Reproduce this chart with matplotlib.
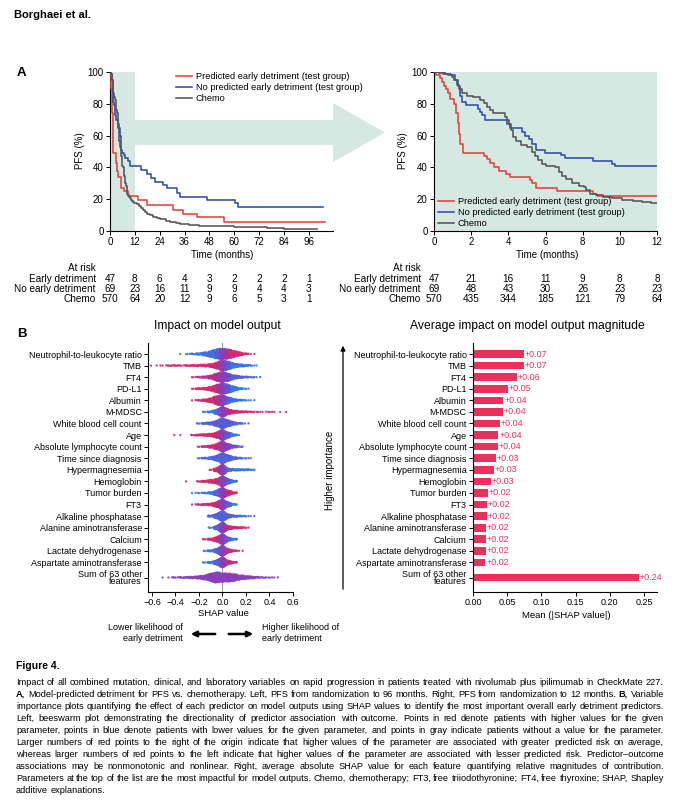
import matplotlib
matplotlib.use('Agg')
import matplotlib.pyplot as plt
import numpy as np
from matplotlib import font_manager
from matplotlib.colors import LinearSegmentedColormap
from matplotlib.patches import Polygon, FancyArrowPatch
from matplotlib.transforms import blended_transform_factory

names = {f.name for f in font_manager.fontManager.ttflist}
SANS = 'Liberation Sans' if 'Liberation Sans' in names else 'DejaVu Sans'
NARROW = 'Liberation Sans Narrow' if 'Liberation Sans Narrow' in names else SANS
plt.rcParams['font.family'] = SANS

# ---------------- data: panel A (PFS %, step curves) ----------------
red_t = [0, 0.13, 0.3, 0.45, 0.55, 0.65, 0.75, 0.85, 1.1, 1.2, 1.28, 1.35, 1.42, 1.55, 2.7,
         2.85, 3.0, 3.25, 3.5, 3.85, 4.1, 5.15, 5.3, 5.5, 6.6, 8.55, 8.75, 13.7, 17.7, 30.6,
         35.4, 42, 55, 104]
red_s = [100, 98, 96, 94, 91.5, 89, 87, 83, 80, 74, 68, 61, 55, 49, 47,
         45, 43, 40.5, 38, 36, 34, 32, 30, 27, 25, 23, 22, 19.5, 16.5, 13.5,
         11, 8.5, 5.5, 5.5]
blue_t = [0, 0.6, 0.9, 1.15, 1.3, 1.4, 1.5, 1.7, 2.35, 2.5, 2.6, 2.72, 3.95, 4.1, 4.75,
          4.9, 5.1, 5.3, 5.5, 5.95, 6.85, 7.05, 8.55, 9.6, 9.75, 15.2, 17.7, 20, 21.6, 25.7,
          27.4, 32.2, 33.8, 46.7, 60.4, 62, 103]
blue_s = [100, 99, 98, 95, 91, 85, 81, 79, 77, 75, 73, 69.5, 67, 65, 62.5,
          60, 58, 55, 51, 49, 48, 46, 44, 42, 41, 38.5, 36, 33.5, 31, 29,
          27, 24, 21.5, 19.5, 17.5, 15, 15]
chemo_t = [0, 0.25, 0.5, 0.75, 0.95, 1.1, 1.25, 1.35, 1.5, 1.75, 2.1, 2.5, 2.7, 2.85, 3.0,
           3.15, 3.5, 3.8, 3.95, 4.05, 4.12, 4.25, 4.4, 4.7, 5.0, 5.3, 5.45, 5.6, 5.8, 6.0,
           6.5, 6.75, 6.9, 7.1, 7.4, 7.8, 8.05, 8.2, 8.4, 8.7, 9.1, 9.6, 10.1, 10.7, 11.2,
           11.7, 13, 14, 15, 16, 17, 18, 19.5, 21, 22.5, 24, 27, 29, 32, 34,
           38, 43, 50, 60, 68, 76, 80, 84, 90, 100]
chemo_s = [100, 99.5, 99, 98, 97, 95, 92, 89, 86.5, 85, 84, 82.5, 80.5, 78, 76,
           74.5, 74, 72, 70, 67, 63.5, 59, 56.5, 54, 53, 50, 47, 44.5, 42, 41,
           40, 37, 34.5, 32.5, 30, 28.5, 27.5, 25.5, 23.5, 22.5, 21.5, 20.5, 19.8, 19, 18.5,
           17.8, 17.2, 16, 14.5, 13, 12, 11, 10, 9, 8, 7.3, 6.2, 5.4, 4.8, 4.4,
           4, 3.4, 3, 2.7, 2.3, 2, 1.6, 1.3, 1.1, 1]
curve_labels = ['Predicted early detriment (test group)',
                'No predicted early detriment (test group)', 'Chemo']

left_ticks = [0, 12, 24, 36, 48, 60, 72, 84, 96]
right_ticks = [0, 2, 4, 6, 8, 10, 12]
risk_groups = ['Early detriment', 'No early detriment', 'Chemo']
risk_left = [[47, 8, 6, 4, 3, 2, 2, 2, 1],
             [69, 23, 16, 11, 9, 9, 4, 4, 3],
             [570, 64, 20, 12, 9, 6, 5, 3, 1]]
risk_right = [[47, 21, 16, 11, 9, 8, 8],
              [69, 48, 43, 30, 26, 23, 23],
              [570, 435, 344, 185, 121, 79, 64]]

# ---------------- data: panel B ----------------
features = ['Neutrophil-to-leukocyte ratio', 'TMB', 'FT4', 'PD-L1', 'Albumin', 'M-MDSC',
            'White blood cell count', 'Age', 'Absolute lymphocyte count',
            'Time since diagnosis', 'Hypermagnesemia', 'Hemoglobin', 'Tumor burden', 'FT3',
            'Alkaline phosphatase', 'Alanine aminotransferase', 'Calcium',
            'Lactate dehydrogenase', 'Aspartate aminotransferase', 'Sum of 63 other\nfeatures']
mean_abs_shap = [0.0746, 0.0746, 0.064, 0.0507, 0.0444, 0.0439, 0.0395, 0.037, 0.036, 0.0331,
                 0.0307, 0.0263, 0.022, 0.020, 0.020, 0.019, 0.0185, 0.0185, 0.018, 0.2427]

# beeswarm: (SHAP value bin centre, number of patients) per feature
swarm_counts = {
    'Neutrophil-to-leukocyte ratio': [(-0.35, 1), (-0.3, 3), (-0.25, 6), (-0.2, 12), (-0.15, 25),
                                      (-0.1, 45), (-0.05, 70), (0, 80), (0.05, 70), (0.1, 45),
                                      (0.15, 25), (0.2, 8), (0.25, 2)],
    'TMB': [(-0.6, 1), (-0.55, 2), (-0.5, 2), (-0.45, 5), (-0.4, 6), (-0.35, 4), (-0.3, 6),
            (-0.25, 8), (-0.2, 10), (-0.15, 14), (-0.1, 22), (-0.05, 45), (0, 80), (0.05, 60),
            (0.1, 30), (0.15, 18), (0.2, 10), (0.25, 4), (0.3, 1)],
    'FT4': [(-0.25, 3), (-0.2, 6), (-0.15, 12), (-0.1, 25), (-0.05, 55), (0, 80), (0.05, 55),
            (0.1, 28), (0.15, 14), (0.2, 8), (0.25, 5), (0.3, 2)],
    'PD-L1': [(-0.25, 3), (-0.2, 8), (-0.15, 15), (-0.1, 30), (-0.05, 60), (0, 85), (0.05, 65),
              (0.1, 35), (0.15, 10), (0.2, 3)],
    'Albumin': [(-0.25, 2), (-0.2, 6), (-0.15, 15), (-0.1, 30), (-0.05, 65), (0, 80), (0.05, 45),
                (0.1, 20), (0.15, 8), (0.2, 4), (0.25, 2)],
    'M-MDSC': [(-0.15, 4), (-0.1, 10), (-0.05, 35), (0, 85), (0.05, 40), (0.1, 20), (0.15, 12),
               (0.2, 8), (0.25, 5), (0.3, 3), (0.35, 2), (0.4, 3), (0.45, 1), (0.5, 1), (0.55, 1)],
    'White blood cell count': [(-0.2, 4), (-0.15, 10), (-0.1, 20), (-0.05, 45), (0, 90),
                               (0.05, 50), (0.1, 22), (0.15, 8), (0.2, 2)],
    'Age': [(-0.4, 1), (-0.35, 1), (-0.25, 5), (-0.2, 10), (-0.15, 15), (-0.1, 22), (-0.05, 45),
            (0, 90), (0.05, 45), (0.1, 12), (0.15, 1)],
    'Absolute lymphocyte count': [(-0.2, 3), (-0.15, 8), (-0.1, 20), (-0.05, 45), (0, 90),
                                  (0.05, 45), (0.1, 18), (0.15, 5)],
    'Time since diagnosis': [(-0.2, 3), (-0.15, 8), (-0.1, 18), (-0.05, 45), (0, 95), (0.05, 50),
                             (0.1, 20), (0.15, 8), (0.2, 3), (0.25, 1)],
    'Hypermagnesemia': [(-0.1, 3), (-0.05, 35), (0, 110), (0.05, 25), (0.1, 15), (0.15, 12),
                        (0.2, 10), (0.25, 5)],
    'Hemoglobin': [(-0.3, 1), (-0.2, 5), (-0.15, 12), (-0.1, 25), (-0.05, 40), (0, 95),
                   (0.05, 40), (0.1, 12)],
    'Tumor burden': [(-0.25, 2), (-0.2, 3), (-0.15, 6), (-0.1, 15), (-0.05, 45), (0, 100),
                     (0.05, 45), (0.1, 12)],
    'FT3': [(-0.25, 2), (-0.2, 6), (-0.15, 10), (-0.1, 18), (-0.05, 45), (0, 100), (0.05, 40),
            (0.1, 8)],
    'Alkaline phosphatase': [(-0.1, 12), (-0.05, 45), (0, 110), (0.05, 35), (0.1, 15), (0.15, 8),
                             (0.2, 4), (0.25, 2)],
    'Alanine aminotransferase': [(-0.1, 4), (-0.05, 35), (0, 110), (0.05, 35), (0.1, 18),
                                 (0.15, 10), (0.2, 4)],
    'Calcium': [(-0.15, 4), (-0.1, 15), (-0.05, 45), (0, 110), (0.05, 35), (0.1, 10)],
    'Lactate dehydrogenase': [(-0.15, 3), (-0.1, 12), (-0.05, 40), (0, 110), (0.05, 35),
                              (0.1, 10), (0.15, 2)],
    'Aspartate aminotransferase': [(-0.15, 4), (-0.1, 12), (-0.05, 45), (0, 110), (0.05, 35),
                                   (0.1, 10)],
    'Sum of 63 other\nfeatures': [(-0.5, 1), (-0.45, 2), (-0.4, 4), (-0.35, 6), (-0.3, 8),
                                  (-0.25, 12), (-0.2, 18), (-0.15, 28), (-0.1, 50), (-0.05, 70),
                                  (0, 55), (0.05, 55), (0.1, 45), (0.15, 28), (0.2, 20),
                                  (0.25, 14), (0.3, 8), (0.35, 5), (0.4, 3), (0.45, 2)],
}
# which side high feature values (red) fall on, and overall colour tilt
red_side = [1, -1, -0.6, -1, -1, 1, 0, -1, -0.6, 0, -1, -1, 1, -1, 0, 1, -1, 1, 1, 0]
tone = [0, 0, 0, 0, 0, 0, -0.25, 0, 0.1, -0.3, 0, 0, 0, 0, -0.3, 0, 0, 0, 0, 0]

caption = [
    "Impact of all combined mutation, clinical, and laboratory variables on rapid progression in patients treated with nivolumab plus ipilimumab in CheckMate 227.",
    "A, Model-predicted detriment for PFS vs. chemotherapy. Left, PFS from randomization to 96 months. Right, PFS from randomization to 12 months. B, Variable",
    "importance plots quantifying the effect of each predictor on model outputs using SHAP values to identify the most important overall early detriment predictors.",
    "Left, beeswarm plot demonstrating the directionality of predictor association with outcome. Points in red denote patients with higher values for the given",
    "parameter, points in blue denote patients with lower values for the given parameter, and points in gray indicate patients without a value for the parameter.",
    "Larger numbers of red points to the right of the origin indicate that higher values of the parameter are associated with greater predicted risk on average,",
    "whereas larger numbers of red points to the left indicate that higher values of the parameter are associated with lesser predicted risk. Predictor\u2013outcome",
    "associations may be nonmonotonic and nonlinear. Right, average absolute SHAP value for each feature quantifying relative magnitudes of contribution.",
    "Parameters at the top of the list are the most impactful for model outputs. Chemo, chemotherapy; FT3, free triiodothyronine; FT4, free thyroxine; SHAP, Shapley",
    "additive explanations.",
]

# ---------------- layout helpers (pixel boxes) ----------------
W, H = 686, 800
TEAL = '#d5e9e2'
RED, BLUE, GRAY = '#e0433b', '#2f4ea3', '#555555'
BAR_RED = '#e8315b'


def fx(px):
    return px / W


def fy(py):
    return 1 - py / H


def box(l, t, r, b):
    return [l / W, 1 - b / H, (r - l) / W, (b - t) / H]


fig = plt.figure(figsize=(W / 100, H / 100), dpi=100)

fig.text(fx(14), fy(15), 'Borghaei et al.', fontsize=8, weight='bold', va='center')
fig.text(fx(17), fy(73), 'A', fontsize=9.5, weight='bold', va='center')
fig.text(fx(17), fy(334), 'B', fontsize=9.5, weight='bold', va='center')

# big teal arrow from the 12-month window to the zoomed plot
arrow_pts = [(134, 120), (333, 120), (333, 103), (385, 132.5), (333, 162), (333, 145), (134, 145)]
fig.add_artist(Polygon([(fx(x), fy(y)) for x, y in arrow_pts], closed=True,
                       transform=fig.transFigure, facecolor=TEAL, edgecolor='none', zorder=-1))


def km_axes(ax, xmax, ticks):
    for s in ['top', 'right']:
        ax.spines[s].set_visible(False)
    for s in ['left', 'bottom']:
        ax.spines[s].set_linewidth(0.8)
    ax.set_xlim(0, xmax)
    ax.set_ylim(0, 100)
    ax.set_xticks(ticks)
    ax.set_yticks([0, 20, 40, 60, 80, 100])
    ax.tick_params(direction='out', length=3, width=0.7, labelsize=7, pad=1.5)
    for t, s, c, lab in [(red_t, red_s, RED, curve_labels[0]),
                         (blue_t, blue_s, BLUE, curve_labels[1]),
                         (chemo_t, chemo_s, GRAY, curve_labels[2])]:
        ax.step(t, s, where='post', color=c, lw=1.15, label=lab, zorder=3)


legend_kw = dict(bbox_transform=fig.transFigure, loc='upper left', frameon=False, fontsize=6.7,
                 handlelength=1.7, handletextpad=0.4, labelspacing=0.22, borderpad=0,
                 borderaxespad=0)

axL = fig.add_axes(box(110, 72, 333, 231))
axL.set_facecolor('none')
axL.axvspan(0, 12, color=TEAL, lw=0, zorder=0)
km_axes(axL, 107.7, left_ticks)
axL.legend(bbox_to_anchor=(fx(176), fy(72)), **legend_kw)

axR = fig.add_axes(box(434, 72, 657, 231))
axR.set_facecolor(TEAL)
km_axes(axR, 12, right_ticks)
axR.legend(bbox_to_anchor=(fx(438), fy(197)), **legend_kw)

for ax, xc, pfs_x in [(axL, 222, 80), (axR, 547, 403)]:
    fig.text(fx(xc), fy(255), 'Time (months)', fontsize=7, ha='center', va='center')
    fig.text(fx(pfs_x), fy(151), 'PFS (%)', fontsize=7, ha='center', va='center', rotation=90)

# numbers at risk
for ax, ticks, table, lab_x in [(axL, left_ticks, risk_left, 96), (axR, right_ticks, risk_right, 421)]:
    tr = blended_transform_factory(ax.transData, fig.transFigure)
    fig.text(fx(lab_x), fy(268), 'At risk', fontsize=7.2, ha='right', va='center')
    for r, (grp, row) in enumerate(zip(risk_groups, table)):
        yy = fy(278.5 + 10.5 * r)
        fig.text(fx(lab_x), yy, grp, fontsize=7.2, ha='right', va='center')
        for t, n in zip(ticks, row):
            fig.text(t, yy, str(n), fontsize=7.2, ha='center', va='center', transform=tr)

# ---------------- panel B: beeswarm ----------------
shap_cmap = LinearSegmentedColormap.from_list('shap', ['#2a7fef', '#8a3bbd', '#ec2458'])
n_feat = len(features)
ypos = np.arange(n_feat, dtype=float)[::-1]
ypos[-1] = -0.3  # two-line label sits a little lower
YLIM = (-1.55, 19.95)

axB = fig.add_axes(box(148, 343, 293, 592))
axB.set_xlim(-0.634, 0.6)
axB.set_ylim(*YLIM)
axB.axvline(0, color='#9a9a9a', lw=0.8, zorder=1)
golden = 0.6180339887
plastic = 0.7548776662
for i, feat in enumerate(features):
    bins = swarm_counts[feat]
    centres = np.array([b[0] for b in bins])
    counts = np.array([b[1] for b in bins], dtype=float)
    nmax = counts.max()
    xs, ys, cs = [], [], []
    for c, n in bins:
        for k in range(n):
            x = c - 0.025 + ((k + 0.5) * golden % 1) * 0.05
            amp = np.interp(x, centres, counts) / nmax * 0.46
            j = (k + 1) // 2
            sgn = 1 if k % 2 else -1
            y = ypos[i] + sgn * (j / max(n / 2, 1)) * amp
            wig = ((k * plastic) % 1 - 0.5) * 2
            cv = 0.5 + red_side[i] * 0.42 * np.clip(x / 0.08, -1, 1) + tone[i] + 0.2 * wig
            xs.append(x)
            ys.append(y)
            cs.append(np.clip(cv, 0, 1))
    axB.scatter(xs, ys, c=cs, cmap=shap_cmap, vmin=0, vmax=1, s=2.8, lw=0, alpha=0.9, zorder=2)


def feature_axis(ax):
    ax.set_yticks(ypos)
    ax.set_yticklabels(features, fontsize=6.5, multialignment='right', linespacing=0.85)
    for s in ['top', 'right']:
        ax.spines[s].set_visible(False)
    ax.tick_params(direction='out', length=3, width=0.7, labelsize=6.5, pad=1.5)


feature_axis(axB)
axB.set_xticks([-0.6, -0.4, -0.2, 0.0, 0.2, 0.4, 0.6])
axB.set_xticklabels(['\u22120.6', '\u22120.4', '\u22120.2', '0.0', '0.2', '0.4', '0.6'])
fig.text(fx(223), fy(613), 'SHAP value', fontsize=6.8, ha='center', va='center')
fig.text(fx(217), fy(326), 'Impact on model output', fontsize=8.7, ha='center', va='center')

fig.text(fx(183), fy(633), 'Lower likelihood of\nearly detriment', fontsize=6.5, ha='right',
         va='center', linespacing=1.25)
fig.text(fx(262), fy(633), 'Higher likelihood of\nearly detriment', fontsize=6.5, ha='left',
         va='center', linespacing=1.25)
for a, b in [((218, 634), (188, 634)), ((226, 634), (256, 634))]:
    fig.add_artist(FancyArrowPatch((fx(a[0]), fy(a[1])), (fx(b[0]), fy(b[1])),
                                   transform=fig.transFigure, arrowstyle='-|>',
                                   mutation_scale=8, lw=1.8, color='black'))

# ---------------- panel B: mean |SHAP| bars ----------------
axM = fig.add_axes(box(473, 343, 657, 592))
axM.set_xlim(0, 0.269)
axM.set_ylim(*YLIM)
axM.barh(ypos, mean_abs_shap, height=0.66, color=BAR_RED, zorder=2)
for y, v in zip(ypos, mean_abs_shap):
    axM.text(v + 0.0015, y, f'+{v:.2f}', color=BAR_RED, fontsize=6.5, va='center', ha='left')
feature_axis(axM)
axM.set_xticks([0, 0.05, 0.10, 0.15, 0.20, 0.25])
axM.set_xticklabels(['0.00', '0.05', '0.10', '0.15', '0.20', '0.25'])
fig.text(fx(566), fy(616), 'Mean (|SHAP value|)', fontsize=6.8, ha='center', va='center')
fig.text(fx(527), fy(326), 'Average impact on model output magnitude', fontsize=8.7,
         ha='center', va='center')

fig.add_artist(FancyArrowPatch((fx(343), fy(592)), (fx(343), fy(343)),
                               transform=fig.transFigure, arrowstyle='-|>',
                               mutation_scale=7, lw=0.9, color='black'))
fig.text(fx(330), fy(470), 'Higher importance', fontsize=7, rotation=90, ha='center', va='center')

# ---------------- caption (justified, word by word, on a common baseline) ----------------
fig.text(fx(16), fy(669), 'Figure 4.', fontsize=7.5, weight='bold', va='baseline', family=NARROW)
renderer = fig.canvas.get_renderer()
left_px, right_px = 16, 664
avail = right_px - left_px


def caption_words(fs):
    out = []
    for i, line in enumerate(caption):
        words = line.split(' ')
        txts = [fig.text(0, fy(685 + 12 * i), w, fontsize=fs, family=NARROW, va='baseline',
                         ha='left', weight='bold' if w in ('A,', 'B,') else 'normal')
                for w in words]
        widths = [t.get_window_extent(renderer).width for t in txts]
        out.append((txts, widths))
    return out


cap_fs = 8.5
lines = caption_words(cap_fs)
space = 0.26 * cap_fs * 100 / 72
natural = max(sum(w) + space * (len(w) - 1) for _, w in lines)
if natural > avail:
    for txts, _ in lines:
        for t in txts:
            t.remove()
    cap_fs *= avail / natural
    lines = caption_words(cap_fs)

for i, (txts, widths) in enumerate(lines):
    if i < len(lines) - 1:
        gap = (avail - sum(widths)) / (len(widths) - 1)
    else:
        gap = 0.26 * cap_fs * 100 / 72
    x = left_px
    for t, w in zip(txts, widths):
        t.set_x(fx(x))
        x += w + gap

fig.savefig('out.png', dpi=100)
